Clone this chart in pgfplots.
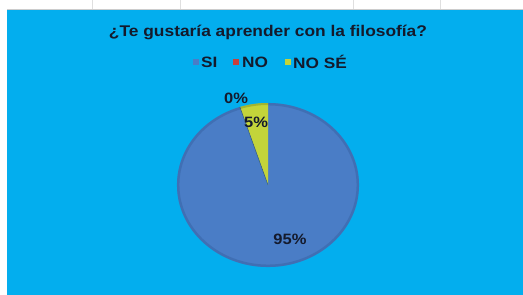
\documentclass[border=0pt]{standalone}
\usepackage{pgfplots}
\usepackage{pgfplotstable}
\pgfplotsset{compat=1.18}
\usepackage{fontspec}
\setmainfont{Liberation Sans}
\definecolor{bgblue}{HTML}{03AEEE}
\definecolor{siblue}{HTML}{4A7DC6}
\definecolor{siedge}{HTML}{3A67A8}
\definecolor{nored}{HTML}{C8403C}
\definecolor{nosegreen}{HTML}{C3D43A}
\definecolor{noseedge}{HTML}{8FA028}
\definecolor{txt}{HTML}{141A2C}

\pgfplotstableread{
label value
SI 95
NO 0
NOSE 5
}\piedata
\pgfplotstablegetelem{0}{value}\of\piedata \let\vSI\pgfplotsretval
\pgfplotstablegetelem{1}{value}\of\piedata \let\vNO\pgfplotsretval
\pgfplotstablegetelem{2}{value}\of\piedata \let\vNOSE\pgfplotsretval
\pgfmathsetmacro{\aA}{90}
\pgfmathsetmacro{\aB}{90-3.6*\vSI}
\pgfmathsetmacro{\aC}{\aB-3.6*\vNO}
\pgfmathsetmacro{\aD}{\aC-3.6*\vNOSE}

\begin{document}%
\begin{tikzpicture}
\begin{axis}[
  x=1pt, y=1pt,
  xmin=0, xmax=523, ymin=0, ymax=295,
  hide axis,
  clip=false,
]
% page background
\fill[white] (0,0) rectangle (523,295);
\fill[bgblue] (7,0) rectangle (523,285);
\draw[gray!40, line width=1.2pt] (7,285.5) -- (523,285.5);
\pgfplotsinvokeforeach{92,180,353,440}{\draw[gray!25] (#1,286) -- (#1,295);}
% pie slices
\fill[siblue] (268,110) -- ++(\aA:91pt and 82pt)
   arc[start angle=\aA, end angle=\aB, x radius=91pt, y radius=82pt] -- cycle;
\draw[siedge, line width=2.5pt, opacity=0.6] (268,110) ++(\aA:89.8pt and 80.8pt)
   arc[start angle=\aA, end angle=\aB, x radius=89.8pt, y radius=80.8pt];
\fill[nosegreen] (268,110) -- ++(\aC:91pt and 82pt)
   arc[start angle=\aC, end angle=\aD, x radius=91pt, y radius=82pt] -- cycle;
\draw[noseedge, line width=2pt, opacity=0.6] (268,110) ++(\aC:90pt and 81pt)
   arc[start angle=\aC, end angle=\aD, x radius=90pt, y radius=81pt];
\draw[siedge!80!black, line width=0.5pt] (268,110) -- ++(\aB:91pt and 82pt);
% title
\node[font=\fontsize{15.5}{18}\selectfont\bfseries, text=txt, xscale=1.12] at (268,263) {¿Te gustaría aprender con la filosofía?};
% legend
\fill[siblue] (193,230) rectangle (199,236);
\node[anchor=west, inner sep=0pt, xscale=1.15, font=\fontsize{15}{17}\selectfont\bfseries, text=txt] at (201,233) {SI};
\fill[nored] (233,230) rectangle (239,236);
\node[anchor=west, inner sep=0pt, xscale=1.15, font=\fontsize{15}{17}\selectfont\bfseries, text=txt] at (242,233) {NO};
\fill[nosegreen] (285,230) rectangle (291,236);
\node[anchor=west, inner sep=0pt, xscale=1.15, font=\fontsize{15}{17}\selectfont\bfseries, text=txt] at (293,233) {NO SÉ};
% data labels
\node[xscale=1.1, font=\fontsize{15}{17}\selectfont\bfseries, text=txt] at (236,197) {\vNO\%};
\node[xscale=1.1, font=\fontsize{15}{17}\selectfont\bfseries, text=txt] at (256,173) {\vNOSE\%};
\node[xscale=1.1, font=\fontsize{15}{17}\selectfont\bfseries, text=txt] at (290,56) {\vSI\%};
\end{axis}
\pgfresetboundingbox
\path[use as bounding box] (current axis.south west) rectangle (current axis.north east);
\end{tikzpicture}%
\end{document}
